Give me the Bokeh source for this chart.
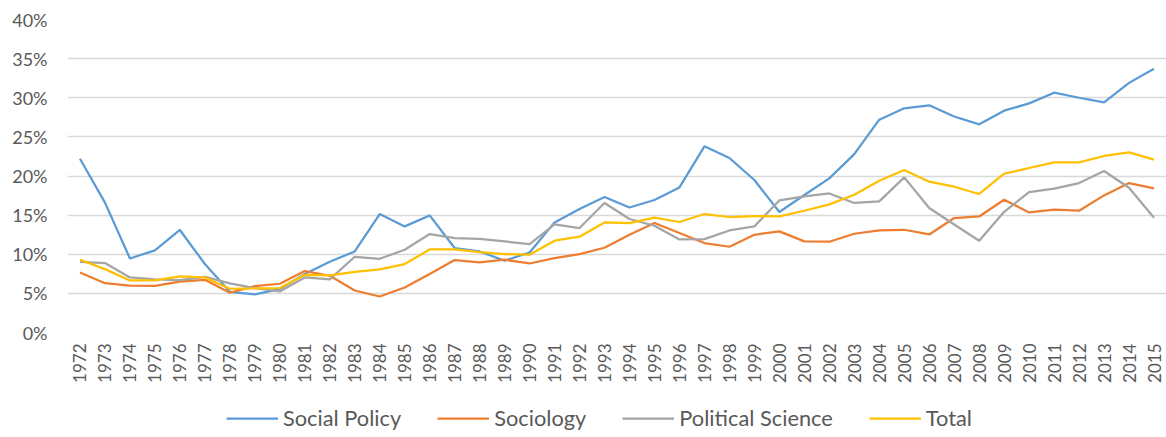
import math
from bokeh.plotting import figure
from bokeh.layouts import column
from bokeh.models import (Range1d, FixedTicker, NumeralTickFormatter, Legend, LegendItem)
from bokeh.embed import file_html
from bokeh.resources import INLINE

years = list(range(1972, 2016))
social_policy = [22.2, 16.6, 9.46, 10.5, 13.1, 8.75, 5.2, 4.86, 5.55, 7.47, 9.04, 10.36, 15.14,
                 13.56, 14.96, 10.8, 10.36, 9.17, 10.23, 14.07, 15.78, 17.31, 15.98, 16.93, 18.54, 23.79, 22.3, 19.49,
                 15.4, 17.57, 19.7, 22.8, 27.2, 28.65, 29.03, 27.6, 26.6, 28.35, 29.28, 30.65, 30.0, 29.4, 31.9, 33.7]
sociology = [7.67, 6.3, 6.0, 5.97, 6.5, 6.74, 5.08, 5.93, 6.23, 7.85, 7.25, 5.37, 4.6,
             5.75, 7.47, 9.26, 8.95, 9.3, 8.82, 9.51, 10.02, 10.83, 12.49, 13.99, 12.71, 11.43, 10.96, 12.49,
             12.92, 11.64, 11.6, 12.62, 13.04, 13.13, 12.53, 14.63, 14.83, 16.97, 15.35, 15.69, 15.56, 17.52, 19.1, 18.42]
political_science = [9.04, 8.87, 7.03, 6.78, 6.7, 7.12, 6.27, 5.68, 5.24, 7.03, 6.78, 9.68, 9.42,
                     10.58, 12.58, 12.07, 11.98, 11.64, 11.3, 13.81, 13.35, 16.55, 14.5, 13.64, 11.89, 11.94, 13.04, 13.56,
                     16.88, 17.39, 17.77, 16.55, 16.75, 19.82, 15.91, 13.81, 11.73, 15.43, 17.95, 18.38, 19.1, 20.64, 18.5, 14.67]
total = [9.3, 8.1, 6.65, 6.65, 7.16, 7.03, 5.59, 5.63, 5.68, 7.38, 7.29, 7.76, 8.06,
         8.75, 10.61, 10.61, 10.28, 10.02, 9.94, 11.73, 12.24, 14.07, 13.99, 14.67, 14.12, 15.14, 14.76, 14.88,
         14.83, 15.56, 16.37, 17.61, 19.4, 20.77, 19.27, 18.63, 17.7, 20.29, 21.02, 21.74, 21.74, 22.56, 23.02, 22.09]
series_names = ["Social Policy", "Sociology", "Political Science", "Total"]
y_ticks = [0, 0.05, 0.10, 0.15, 0.20, 0.25, 0.30, 0.35, 0.40]

colors = ["#5B9BD5", "#ED7D31", "#A5A5A5", "#FFC000"]
FONT = "Lato"
TXT = "#595959"

p = figure(frame_width=1099, frame_height=313, output_backend="svg", toolbar_location=None,
           x_range=Range1d(1971.5, 2015.5), y_range=Range1d(0, 0.4),
           min_border_left=67, min_border_right=0, min_border_top=19, min_border_bottom=58)
p.outline_line_color = None
p.background_fill_color = "white"
p.border_fill_color = "white"

p.xgrid.grid_line_color = None
p.ygrid.grid_line_color = "#D9D9D9"
p.ygrid.grid_line_width = 1.5
p.ygrid.ticker = FixedTicker(ticks=y_ticks)

p.yaxis.ticker = FixedTicker(ticks=y_ticks)
p.yaxis.formatter = NumeralTickFormatter(format="0%")
p.xaxis.ticker = FixedTicker(ticks=years)
p.xaxis.major_label_orientation = math.pi / 2
for ax in (p.xaxis, p.yaxis):
    ax.axis_line_color = None
    ax.major_tick_line_color = None
    ax.minor_tick_line_color = None
    ax.major_tick_in = 0
    ax.major_tick_out = 0
    ax.major_label_text_font = FONT
    ax.major_label_text_color = TXT
p.yaxis.major_label_text_font_size = "18px"
p.yaxis.major_label_standoff = 20
p.xaxis.major_label_text_font_size = "17px"
p.xaxis.major_label_standoff = 11

for name, vals, c in zip(series_names, [social_policy, sociology, political_science, total], colors):
    p.line(years, [v / 100 for v in vals], line_color=c, line_width=2.25)

# legend strip below the chart (its renderers sit outside the visible range)
lf = figure(width=1166, height=47, output_backend="svg", toolbar_location=None,
            x_range=Range1d(0, 1), y_range=Range1d(0, 1), x_axis_type=None, y_axis_type=None,
            min_border_left=0, min_border_right=0, min_border_top=0, min_border_bottom=0)
lf.outline_line_color = None
lf.grid.grid_line_color = None
lf.background_fill_color = "white"
lf.border_fill_color = "white"

items = []
for name, c in zip(series_names, colors):
    r = lf.line(x=[-10, -9], y=[-10, -10], line_color=c, line_width=2.25)
    items.append(LegendItem(label=name, renderers=[r]))

legend = Legend(items=items, orientation="horizontal", location=(159, 6),
                label_text_font=FONT, label_text_font_size="21.8px", label_text_color=TXT,
                glyph_width=52, glyph_height=20, label_height=20, label_standoff=5, spacing=36,
                padding=0, margin=0, border_line_color=None, background_fill_alpha=0)
lf.add_layout(legend, "center")

layout = column(p, lf, spacing=0)
open("out.html", "w").write(file_html(layout, INLINE))
